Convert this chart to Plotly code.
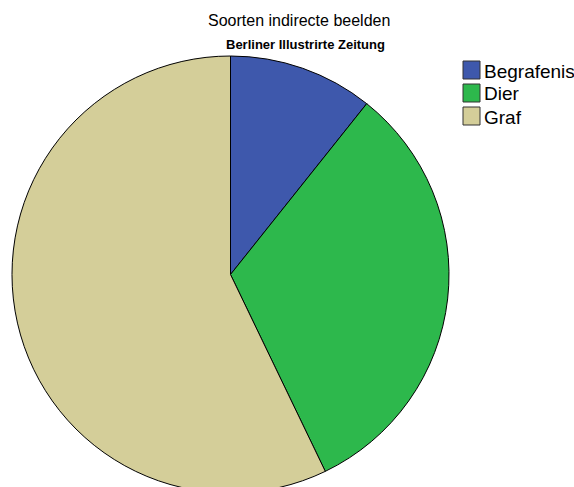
import plotly.graph_objects as go

# Counts per category of indirect images
categories = ["Begrafenis", "Dier", "Graf"]
counts = [3, 9, 16]
colors = ["#3E58AC", "#2DB84C", "#D4CE99"]

W, H = 574, 500

fig = go.Figure(
    go.Pie(
        labels=categories,
        values=counts,
        sort=False,
        direction="clockwise",
        rotation=0,
        textinfo="none",
        hoverinfo="label+value+percent",
        marker=dict(colors=colors, line=dict(color="#000000", width=1)),
        domain=dict(x=[12 / W, 449 / W], y=[(H - 493) / H, (H - 56) / H]),
        showlegend=False,
    )
)


def px(x):
    return x / W


def py(y):
    return 1 - y / H


# Legend drawn as swatches + labels
shapes = []
annotations = []
for i, (name, col) in enumerate(zip(categories, colors)):
    cy = 70 + i * 23
    shapes.append(
        dict(
            type="rect",
            xref="paper",
            yref="paper",
            x0=px(463),
            x1=px(480),
            y0=py(cy + 9),
            y1=py(cy - 9),
            fillcolor=col,
            line=dict(color="#333333", width=1),
        )
    )
    annotations.append(
        dict(
            text=name,
            x=px(482),
            y=py(cy + 1),
            xref="paper",
            yref="paper",
            xanchor="left",
            yanchor="middle",
            showarrow=False,
            font=dict(size=19, color="#000000"),
        )
    )

annotations += [
    dict(
        text="Soorten indirecte beelden",
        x=px(299),
        y=py(20),
        xref="paper",
        yref="paper",
        xanchor="center",
        yanchor="middle",
        showarrow=False,
        font=dict(size=16, color="#000000"),
    ),
    dict(
        text="<b>Berliner Illustrirte Zeitung</b>",
        x=px(306),
        y=py(45),
        xref="paper",
        yref="paper",
        xanchor="center",
        yanchor="middle",
        showarrow=False,
        font=dict(
            size=13,
            color="#000000",
            family="Liberation Sans Narrow, Arial Narrow, Liberation Sans, sans-serif",
        ),
    ),
]

fig.update_layout(
    width=W,
    height=H,
    margin=dict(l=0, r=0, t=0, b=0, autoexpand=False),
    paper_bgcolor="white",
    plot_bgcolor="white",
    font=dict(family="Liberation Sans, Arial, sans-serif", color="#000000"),
    showlegend=False,
    shapes=shapes,
    annotations=annotations,
)

fig.write_html(
    "out.html",
    post_script="document.body.style.overflow='hidden';document.body.style.margin='0';",
)
